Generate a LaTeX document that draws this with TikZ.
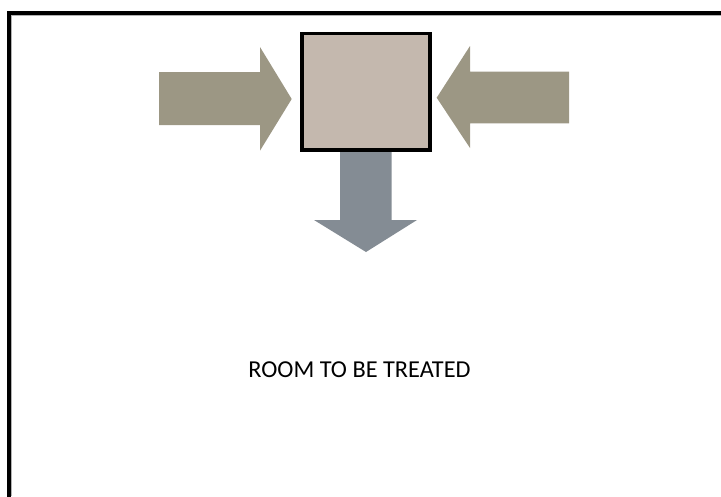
\documentclass[tikz,border=0pt]{standalone}
\usepackage{fontspec}
\setmainfont{Carlito}
\definecolor{inarrow}{HTML}{9C9784}
\definecolor{outarrow}{HTML}{848C94}
\definecolor{unitfill}{HTML}{C4B8AE}
\tikzset{
  wall/.style={line width=4pt, line cap=rect},
  wallshadow/.style={line width=1pt, draw=black!30},
  inflow/.style={fill=inarrow},
  outflow/.style={fill=outarrow},
  unitbox/.style={draw=black, line width=3.5pt, fill=unitfill, minimum width=128pt, minimum height=116.5pt, inner sep=0pt},
  label/.style={font=\fontsize{24.3}{29}\selectfont, text=black}
}
\begin{document}
\begin{tikzpicture}[x=1pt,y=-1pt]
\useasboundingbox (0,0) rectangle (721,496);
% room walls
\coordinate (wallbottom) at (9,496);
\coordinate (wallcorner) at (9,13);
\coordinate (wallright) at (721,13);
\draw[wallshadow] (11.5,496) -- (11.5,15.5) -- (721,15.5);
\draw[wall] (wallbottom) -- (wallcorner) -- (wallright);
% arrows
\fill[inflow] (159,72) -- (260,72) -- (260,47) -- (291.7,99) -- (260,150.7) -- (260,125) -- (159,125) -- cycle;
\fill[inflow] (569,71.7) -- (470,71.7) -- (470,46) -- (436.7,97.7) -- (470,148) -- (470,123.3) -- (569,123.3) -- cycle;
\fill[outflow] (340,150) -- (391.7,150) -- (391.7,220) -- (417,220) -- (366,252) -- (314,220) -- (340,220) -- cycle;
% unit
\node[unitbox] (unit) at (365.8,91.8) {};
% label
\node[label, anchor=base] (room) at (359.5,377) {ROOM TO BE TREATED};
\end{tikzpicture}
\end{document}
